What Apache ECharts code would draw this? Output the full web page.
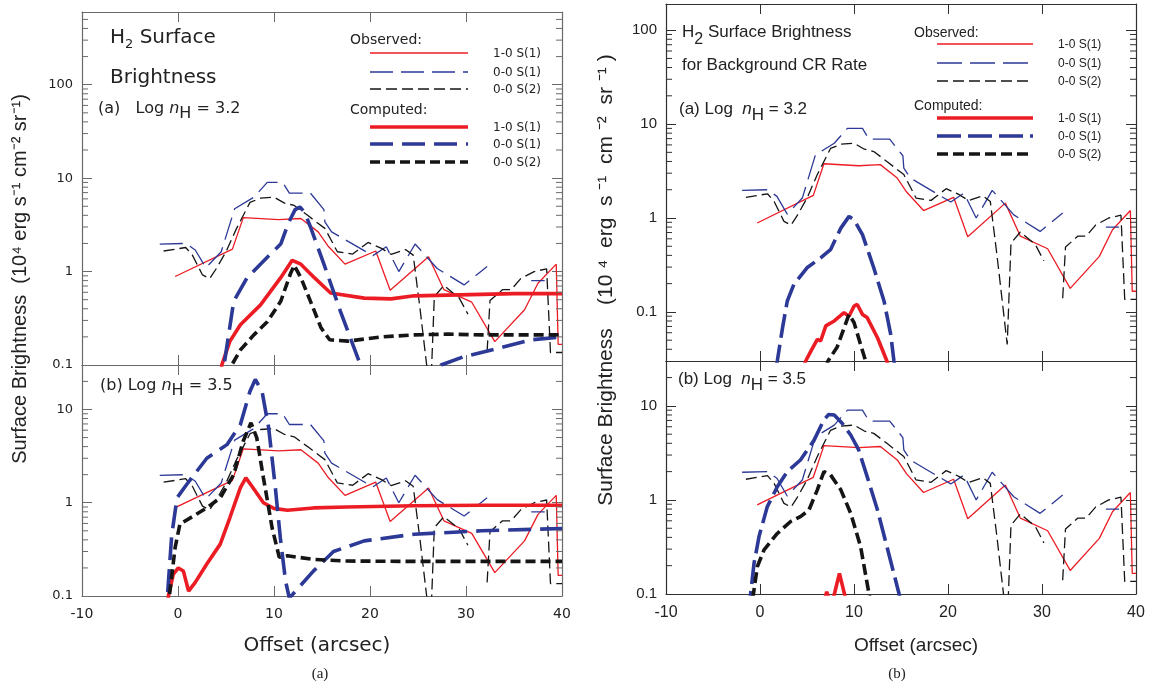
<!DOCTYPE html>
<html>
<head>
<meta charset="utf-8">
<script src="https://cdn.jsdelivr.net/npm/echarts@6/dist/echarts.min.js"></script>
<style>
  html, body { margin: 0; background: #fff; }
  #chart { width: 1159px; height: 689px; }
</style>
</head>
<body>
<div id="chart"></div>
<script>
// ===== Data (offset in arcsec, brightness in 1e4 erg s-1 cm-2 sr-1) =====
const xTicks = [-10, 0, 10, 20, 30, 40];
const yTickLabels = ['0.1', '1', '10', '100'];

// observed, same in all four panels
const obs10S1 = [[-0.3,0.885],[5.67,1.74],[6.8,3.78],[10.5,3.6],[12.8,3.7],[14.6,2.66],[15.6,1.89],[17.4,1.2],
  [20.6,1.66],[22.1,0.63],[26.1,1.44],[27.7,0.64],[30.6,0.47],[33.0,0.178],[36.1,0.39],[37.5,0.75],[39.4,1.2],
  [39.6,0.166],[40,0.166]];
const obs00S1 = [[-1.9,1.97],[0.8,2.0],[1.8,1.7],[2.9,1.1],[4.5,1.63],[5.9,4.7],[7.9,6.25],[9.3,9.0],[10.9,9.0],
  [11.6,6.9],[13.8,6.9],[15.2,4.6],[15.3,3.4],[16.0,2.66],[20.3,1.48],[21.7,1.84],[23.0,1.0],[24.7,1.97],[27.0,1.08],
  [29.8,0.72],[32.2,1.13],[34,'-'],[36.8,0.8],[38.2,0.8]];
const obs00S2 = [[-1.5,1.66],[0.8,1.81],[1.5,1.5],[2.55,0.92],[3.3,0.84],[4.0,1.08],[5.0,1.63],[6.1,2.9],[7.5,5.5],
  [8.6,6.1],[10.0,6.25],[11.1,5.4],[12.1,5.1],[13.5,4.0],[14.4,3.4],[15.3,2.9],[16.6,1.63],[18.2,1.54],[19.8,2.05],
  [21.2,1.77],[22.2,1.53],[23.7,1.72],[24.5,1.5],[25.2,0.41],[26.3,0.045],[26.7,0.54],[27.7,0.71],[29.3,0.52],
  [30.2,0.35],[31,'-'],[32.2,0.14],[32.5,0.49],[33.8,0.64],[34.7,0.64],[35.7,0.84],[37.1,1.0],[38.4,1.07],
  [38.8,0.136],[40,0.136]];

// computed, left figure (a) log nH = 3.2
const ltCalc10S1 = [[4.3,0.05],[4.56,0.1],[5.4,0.179],[6.5,0.27],[8.6,0.44],[10.7,0.86],[11.9,1.32],[12.8,1.2],
  [14.2,0.86],[15.9,0.59],[19.4,0.52],[22.2,0.51],[24.6,0.55],[28.1,0.56],[31.6,0.57],[35,0.58],[40,0.58]];
const ltCalc00S1 = [[4.5,0.05],[4.8,0.1],[5.8,0.48],[7.2,0.86],[9.3,1.42],[10.7,1.97],[11.5,3.3],[12.2,4.6],
  [12.7,4.9],[13.2,4.3],[13.8,3.0],[15.2,1.2],[16.9,0.38],[19.0,0.1],[21,0.04],[24,0.03],[26.5,0.06],[27.4,0.1],
  [29.8,0.123],[33.3,0.15],[36.8,0.186],[40,0.2]];
const ltCalc00S2 = [[5.3,0.05],[5.6,0.1],[6.5,0.145],[7.9,0.21],[9.3,0.29],[10.7,0.48],[11.7,0.94],[12.1,1.17],
  [12.8,0.86],[13.8,0.48],[14.9,0.25],[15.8,0.186],[17.7,0.18],[21.2,0.2],[24.6,0.21],[28.1,0.214],[31.6,0.21],[40,0.21]];
// left figure (b) log nH = 3.5
const lbCalc10S1 = [[-1.2,0.06],[-1.0,0.1],[-0.5,0.17],[0.03,0.2],[0.56,0.185],[1.1,0.113],[1.78,0.139],[3.0,0.22],
  [4.4,0.36],[5.4,0.69],[6.5,1.45],[7.07,1.85],[7.7,1.5],[8.9,1.0],[9.97,0.87],[11.4,0.83],[14.1,0.88],[17.6,0.9],
  [24.6,0.93],[31.6,0.94],[40,0.94]];
const lbCalc00S1 = [[-1.3,0.05],[-1.1,0.1],[-0.66,0.44],[-0.1,1.13],[0.9,1.57],[3.0,3.0],[5.1,4.2],[6.5,6.9],
  [7.5,15.7],[8.05,21],[8.75,15.7],[9.45,6.3],[10.14,1.45],[10.66,0.42],[11.2,0.145],[11.6,0.095],[14.1,0.185],
  [16.2,0.3],[19.4,0.39],[24.6,0.46],[31.6,0.5],[40,0.53]];
const lbCalc00S2 = [[-1.1,0.05],[-0.9,0.1],[-0.3,0.33],[0.2,0.59],[1.6,0.72],[3.0,0.88],[4.4,1.13],[5.8,2.0],
  [6.8,4.6],[7.6,7.2],[8.2,5.0],[8.9,1.85],[9.8,0.54],[10.55,0.26],[11.4,0.27],[14.1,0.247],[17.6,0.237],
  [24.6,0.235],[40,0.235]];

// computed, right figure (background CR rate)
const rtCalc10S1 = [[4.6,0.025],[4.86,0.03],[5.4,0.038],[6.1,0.051],[6.45,0.049],[7.0,0.071],[7.9,0.08],[8.94,0.098],
  [9.47,0.09],[10.0,0.115],[10.35,0.12],[10.9,0.094],[11.4,0.087],[12.5,0.053],[13.5,0.03],[13.7,0.025]];
const rtCalc00S1 = [[1.7,0.025],[1.84,0.03],[2.4,0.068],[2.9,0.13],[3.6,0.196],[5.0,0.295],[6.45,0.376],[7.5,0.46],
  [8.6,0.78],[9.47,1.04],[10.0,0.96],[10.9,0.665],[12.1,0.295],[13.2,0.13],[13.9,0.058],[14.25,0.03],[14.4,0.025]];
const rtCalc00S2 = [[7.0,0.025],[7.23,0.03],[8.2,0.042],[9.47,0.094],[10.0,0.077],[10.7,0.045],[11.24,0.03],[11.4,0.025]];
const rbCalc10S1 = [[6.9,0.09],[7.1,0.106],[7.3,0.09],[7.8,0.09],[8.45,0.165],[9.1,0.09]];
const rbCalc00S1 = [[-1.2,0.06],[-1.0,0.1],[-0.64,0.21],[-0.1,0.41],[0.78,0.85],[1.84,1.38],[2.9,2.0],[4.3,2.66],
  [5.74,4.3],[6.8,7.1],[7.3,8.1],[7.9,8.0],[8.76,6.5],[9.65,4.9],[10.5,3.4],[11.4,1.77],[12.5,0.78],[13.5,0.32],
  [14.8,0.1],[15,0.08]];
const rbCalc00S2 = [[-0.9,0.06],[-0.7,0.1],[-0.28,0.196],[0.43,0.295],[1.84,0.44],[3.26,0.59],[4.3,0.665],[5.2,0.78],
  [6.1,1.28],[6.8,2.0],[7.5,1.85],[8.6,1.28],[9.65,0.72],[10.7,0.32],[11.6,0.1],[11.8,0.08]];

const lineNames = ['1-0 S(1)', '0-0 S(1)', '0-0 S(2)'];

// ===== Styles =====
const RED = '#ec1c24', BLUE = '#2c3996', BLACK = '#151515';
const COLORS = [RED, BLUE, BLACK];

const figStyle = {
  L: { font: 'DejaVu Sans', axis: '#6a6a6a', yFont: 13, xFont: 14,
       obsDash: ['solid', [23, 8], [11, 5]], calcDash: ['solid', [23, 9], [10, 5]] },
  R: { font: 'Liberation Sans', axis: '#303030', yFont: 15, xFont: 16,
       obsDash: ['solid', [25, 8], [11, 5]], calcDash: ['solid', [24, 7], [11, 5]] }
};

const panels = [
  { fig: 'L', grid: { left: 82, top: 12, width: 480, height: 353 }, yMin: 0.1, yMax: 600, interval: 1,
    showMin: true, xLabels: false, calc: [ltCalc10S1, ltCalc00S1, ltCalc00S2] },
  { fig: 'L', grid: { left: 82, top: 365, width: 480, height: 231 }, yMin: 0.1, yMax: 30, interval: 1,
    showMin: true, xLabels: true, calc: [lbCalc10S1, lbCalc00S1, lbCalc00S2] },
  { fig: 'R', grid: { left: 666, top: 4, width: 470, height: 357 }, yMin: 0.03, yMax: 190,
    showMin: false, xLabels: false, calc: [rtCalc10S1, rtCalc00S1, rtCalc00S2] },
  { fig: 'R', grid: { left: 666, top: 361, width: 470, height: 233 }, yMin: 0.1, yMax: 30, interval: 1,
    showMin: true, xLabels: true, calc: [rbCalc10S1, rbCalc00S1, rbCalc00S2] }
];

// 2..9 x 10^k positions for the minor ticks
function minorTicks(lo, hi) {
  const out = [];
  for (let k = -3; k <= 3; k++) {
    for (let m = 2; m <= 9; m++) {
      const v = m * Math.pow(10, k);
      if (v > lo && v < hi) out.push([-10, v]);
    }
  }
  return out;
}

const grids = [], xAxes = [], yAxes = [], series = [];

panels.forEach((p, i) => {
  const st = figStyle[p.fig];
  grids.push(p.grid);
  const axisLine = { show: true, onZero: false, lineStyle: { color: st.axis, width: 1.2 } };
  const tick = { show: true, inside: true, length: 10, lineStyle: { color: st.axis, width: 1 } };

  xAxes.push({ gridIndex: i, type: 'value', min: xTicks[0], max: xTicks[xTicks.length - 1], interval: 10,
    position: 'bottom', axisLine, axisTick: tick, splitLine: { show: false },
    axisLabel: { show: p.xLabels, margin: 11, color: '#222', fontFamily: st.font, fontSize: st.xFont } });
  xAxes.push({ gridIndex: i, type: 'value', min: xTicks[0], max: xTicks[xTicks.length - 1], interval: 10,
    position: 'top', axisLine, axisTick: tick, splitLine: { show: false }, axisLabel: { show: false } });

  const yBase = { gridIndex: i, type: 'log', logBase: 10, min: p.yMin, max: p.yMax,
    axisLine, axisTick: tick, splitLine: { show: false } };
  if (p.interval) yBase.interval = p.interval;
  yAxes.push(Object.assign({}, yBase, { position: 'left',
    axisLabel: { margin: 9, color: '#222', fontFamily: st.font, fontSize: st.yFont,
      showMaxLabel: false, showMinLabel: p.showMin,
      formatter: v => {
        const s = String(+(+v).toPrecision(2));
        return yTickLabels.indexOf(s) >= 0 ? s : '';
      } } }));
  yAxes.push(Object.assign({}, yBase, { position: 'right', axisLabel: { show: false } }));

  // observed (thin)
  [obs10S1, obs00S1, obs00S2].forEach((d, j) => {
    series.push({ type: 'line', name: 'Observed ' + lineNames[j], xAxisIndex: 2 * i, yAxisIndex: 2 * i,
      data: d, symbol: 'none', clip: true, z: 3,
      lineStyle: { color: COLORS[j], width: 1.3, type: st.obsDash[j] } });
  });
  // computed (thick)
  p.calc.forEach((d, j) => {
    series.push({ type: 'line', name: 'Computed ' + lineNames[j], xAxisIndex: 2 * i, yAxisIndex: 2 * i,
      data: d, symbol: 'none', clip: true, z: 4,
      lineStyle: { color: COLORS[j], width: 3.6, type: st.calcDash[j] } });
  });
  // minor ticks on both y sides
  series.push({ type: 'custom', xAxisIndex: 2 * i, yAxisIndex: 2 * i, silent: true, z: 5,
    data: minorTicks(p.yMin, p.yMax), encode: { x: 0, y: 1 },
    renderItem: (params, api) => {
      const v = api.value(1);
      const a = api.coord([xTicks[0], v]);
      const b = api.coord([xTicks[xTicks.length - 1], v]);
      const s = { stroke: st.axis, lineWidth: 1 };
      return { type: 'group', children: [
        { type: 'line', shape: { x1: a[0], y1: a[1], x2: a[0] + 6, y2: a[1] }, style: s },
        { type: 'line', shape: { x1: b[0] - 6, y1: b[1], x2: b[0], y2: b[1] }, style: s }
      ] };
    } });
});

// ===== Text & legend swatches =====
const graphics = [];

function txt(x, y, text, font, size, extra) {
  graphics.push(Object.assign({ type: 'text', x, y, silent: true,
    style: Object.assign({ text, fontFamily: font, fontSize: size, fill: '#222',
      align: 'left', verticalAlign: 'middle' }, extra && extra.style) }, extra && extra.el));
}

function richTxt(x, y, text, font, size, subSize, subPad) {
  graphics.push({ type: 'text', x, y, silent: true,
    style: { text, fontFamily: font, fontSize: size, fill: '#222', align: 'left', verticalAlign: 'top',
      rich: {
        t: { fontFamily: font, fontSize: size, verticalAlign: 'top', fill: '#222' },
        i: { fontFamily: font, fontSize: size, fontStyle: 'italic', verticalAlign: 'top', fill: '#222' },
        s: { fontFamily: font, fontSize: subSize, verticalAlign: 'top', padding: [subPad, 0, 0, 0], fill: '#222' }
      } } });
}

function legend(fig, headX, lineX1, lineX2, labelX, obsHeadY, obsRows, calcHeadY, calcRows, headSize, labSize) {
  const st = figStyle[fig];
  txt(headX, obsHeadY, 'Observed:', st.font, headSize);
  txt(headX, calcHeadY, 'Computed:', st.font, headSize);
  [0, 1, 2].forEach(j => {
    const od = st.obsDash[j], cd = st.calcDash[j];
    graphics.push({ type: 'line', silent: true, shape: { x1: lineX1, y1: obsRows[j], x2: lineX2, y2: obsRows[j] },
      style: { stroke: COLORS[j], lineWidth: 1.3, lineDash: od === 'solid' ? null : od } });
    graphics.push({ type: 'line', silent: true, shape: { x1: lineX1, y1: calcRows[j], x2: lineX2, y2: calcRows[j] },
      style: { stroke: COLORS[j], lineWidth: 3.6, lineDash: cd === 'solid' ? null : cd } });
    txt(labelX, obsRows[j] + 1, lineNames[j], st.font, labSize);
    txt(labelX, calcRows[j] + 1, lineNames[j], st.font, labSize);
  });
}

// left figure
richTxt(110, 28, '{t|H}{s|2}{t| Surface}', 'DejaVu Sans', 20, 13, 10);
txt(110, 78, 'Brightness', 'DejaVu Sans', 20);
richTxt(98, 101, '{t|(a)   Log }{i|n}{s|H}{t| = 3.2}', 'DejaVu Sans', 16, 16, 5);
richTxt(100, 378, '{t|(b) Log }{i|n}{s|H}{t| = 3.5}', 'DejaVu Sans', 16, 16, 5);
legend('L', 350, 370, 468, 493, 40, [53, 72, 89], 110, [127, 144, 162], 14, 12);
txt(20, 279, 'Surface Brightness  (10\u2074 erg s\u207B\u00B9 cm\u207B\u00B2 sr\u207B\u00B9)', 'Liberation Sans', 20,
  { style: { align: 'center' }, el: { rotation: Math.PI / 2 } });
txt(317, 646, 'Offset (arcsec)', 'DejaVu Sans', 20, { style: { align: 'center' } });
txt(320, 674, '(a)', 'Liberation Serif', 15, { style: { align: 'center' } });

// right figure
richTxt(682, 24, '{t|H}{s|2}{t| Surface Brightness}', 'Liberation Sans', 17, 16, 8);
txt(682, 65, 'for Background CR Rate', 'Liberation Sans', 17);
richTxt(679, 101, '{t|(a) Log  }{i|n}{s|H}{t| = 3.2}', 'Liberation Sans', 17, 17, 6);
richTxt(678, 371, '{t|(b) Log  }{i|n}{s|H}{t| = 3.5}', 'Liberation Sans', 17, 17, 6);
legend('R', 914, 937, 1033, 1058, 33, [44, 63, 81], 106, [118, 136, 154], 14, 12);
txt(606, 280, 'Surface Brightness    (10 \u2074  erg  s \u207B\u00B9  cm \u207B\u00B2  sr \u207B\u00B9 )', 'Liberation Sans', 21,
  { style: { align: 'center' }, el: { rotation: Math.PI / 2 } });
txt(916, 646, 'Offset (arcsec)', 'Liberation Sans', 19, { style: { align: 'center' } });
txt(897, 674, '(b)', 'Liberation Serif', 15, { style: { align: 'center' } });

// ===== Mount =====
const chart = echarts.init(document.getElementById('chart'), null, { renderer: 'canvas' });
chart.setOption({
  animation: false,
  backgroundColor: '#fff',
  grid: grids,
  xAxis: xAxes,
  yAxis: yAxes,
  series,
  graphic: graphics
});
</script>
</body>
</html>
